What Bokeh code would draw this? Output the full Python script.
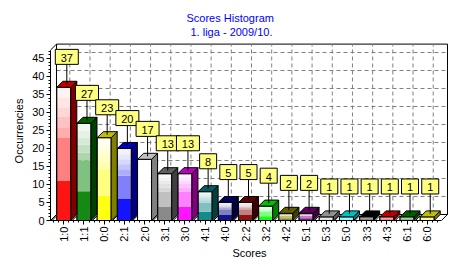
import math
from bokeh.plotting import figure
from bokeh.models import Range1d, FixedTicker, Title, ColumnDataSource
from bokeh.core.properties import value
from bokeh.embed import file_html
from bokeh.resources import INLINE

# ---------------- data ----------------
title_text = "Scores Histogram"
subtitle_text = "1. liga - 2009/10."
x_label = "Scores"
y_label = "Occurrencies"
categories = ["1:0", "1:1", "0:0", "2:1", "2:0", "3:1", "3:0", "4:1", "4:0", "2:2",
              "3:2", "4:2", "5:1", "5:3", "5:0", "3:3", "4:3", "6:1", "6:0"]
counts = [37, 27, 23, 20, 17, 13, 13, 8, 5, 5, 4, 2, 2, 1, 1, 1, 1, 1, 1]
y_ticks = [0, 5, 10, 15, 20, 25, 30, 35, 40, 45]

# ---------------- style ----------------
PALETTE = ["#ff0000", "#008000", "#ffff00", "#0000ff", "#ffffff", "#808080",
           "#ff00ff", "#008080", "#000080", "#800000", "#00ff00", "#808000",
           "#800080", "#c0c0c0", "#00ffff", "#000000"]
FONT = "Liberation Sans"

PX_X = 20.19          # pixels per category
PX_Y = 3.6            # pixels per unit
X0, X1 = -0.659, 19.054
Y0, Y1 = 0.0, 49.72
DX = 6.0 / PX_X       # 3D depth in data units
DY = 6.0 / PX_Y
HW = 7.0 / PX_X       # half bar width
FRONT_L = X0
FRONT_R = 18.707
FRONT_T = 47.33
LABEL_OFF = 8.45
BOX_H = 15


def hex2rgb(h):
    h = h.lstrip("#")
    return tuple(int(h[i:i + 2], 16) for i in (0, 2, 4))


def rgb2hex(c):
    return "#%02x%02x%02x" % tuple(max(0, min(255, int(round(v)))) for v in c)


def mix(h, w):
    r, g, b = hex2rgb(h)
    return rgb2hex((r + (255 - r) * w, g + (255 - g) * w, b + (255 - b) * w))


def shade(h, f):
    r, g, b = hex2rgb(h)
    return rgb2hex((r * f, g * f, b * f))


p = figure(width=461, height=267, x_range=Range1d(X0, X1), y_range=Range1d(Y0, Y1),
           output_backend="svg", toolbar_location=None, title=None,
           min_border_left=50, min_border_right=13, min_border_top=41, min_border_bottom=47)
p.outline_line_color = None
p.xgrid.visible = False
p.ygrid.visible = False
p.background_fill_color = "white"
p.border_fill_color = "white"

# ---- 3D box: back wall, left wall, floor ----
BL, BR, BT = FRONT_L + DX, FRONT_R + DX, FRONT_T + DY
p.quad(left=[BL], right=[BR], bottom=[DY], top=[BT], fill_color="white",
       line_color="black", line_width=1)
# dashed grid on back wall
gx = [i + DX for i in range(len(categories))]
p.segment(x0=gx, y0=[DY] * len(gx), x1=gx, y1=[BT] * len(gx),
          line_color="#808080", line_dash="4 3", line_width=1)
gy = [t + DY for t in y_ticks if t > 0]
p.segment(x0=[BL] * len(gy), y0=gy, x1=[BR] * len(gy), y1=gy,
          line_color="#808080", line_dash="4 3", line_width=1)
# left wall
p.patch(x=[FRONT_L, BL, BL, FRONT_L], y=[0, DY, BT, FRONT_T],
        fill_color="white", line_color="black", line_width=1)
# floor
p.patch(x=[FRONT_L, FRONT_R, BR, BL], y=[0, 0, DY, DY],
        fill_color="white", line_color="black", line_width=1)

# ---- bars ----
edges = [0.0, 0.3, 0.62, 0.7, 0.78, 0.85, 0.92, 1.0]
whites = [0.08, 0.5, 0.68, 0.76, 0.84, 0.9, 0.95]
bl, br, bb, bt, bc = [], [], [], [], []
side_xs, side_ys, side_c = [], [], []
top_xs, top_ys, top_c = [], [], []
tri_xs, tri_ys = [], []
for i, v in enumerate(counts):
    col = PALETTE[i % len(PALETTE)]
    for k in range(len(whites)):
        bl.append(i - HW)
        br.append(i + HW)
        bb.append(v * edges[k])
        bt.append(v * edges[k + 1])
        bc.append(mix(col, whites[k]))
    side_xs.append([i + HW, i + HW + DX, i + HW + DX, i + HW])
    side_ys.append([0, DY, v + DY, v])
    side_c.append(shade(col, 0.5))
    top_xs.append([i - HW, i + HW, i + HW + DX, i - HW + DX])
    top_ys.append([v, v, v + DY, v + DY])
    top_c.append(shade(col, 0.75))
    tri_xs.append([i - HW - DX * 0.8, i - HW, i - HW])
    tri_ys.append([0, 0, DY * 0.8])

p.patches(xs=tri_xs, ys=tri_ys, fill_color="white", line_color="black", line_width=1)
p.quad(left=bl, right=br, bottom=bb, top=bt, fill_color=bc, line_color=None)
p.quad(left=[i - HW for i in range(len(counts))], right=[i + HW for i in range(len(counts))],
       bottom=[0] * len(counts), top=counts, fill_color=None, line_color="black", line_width=1)
p.patches(xs=side_xs, ys=side_ys, fill_color=side_c, line_color="black", line_width=1)
p.patches(xs=top_xs, ys=top_ys, fill_color=top_c, line_color="black", line_width=1)

# ---- value labels ----
lx = [i + DX / 2 for i in range(len(counts))]
ly = [v + LABEL_OFF for v in counts]
src = ColumnDataSource(dict(
    x=lx, y=ly, txt=[str(v) for v in counts],
    w=[6 * len(str(v)) + 11 for v in counts],
    y0=[v + DY / 2 for v in counts],
    y1=[v + LABEL_OFF - (BOX_H / 2) / PX_Y for v in counts]))
p.segment(x0="x", y0="y0", x1="x", y1="y1", source=src, line_color="black", line_width=1)
p.rect(x="x", y="y", width="w", height=BOX_H, width_units="screen", height_units="screen",
       source=src, fill_color="#ffff80", line_color="black", line_width=1)
p.text(x="x", y="y", text="txt", source=src, text_align="center", text_baseline="middle",
       text_font=value(FONT), text_font_size="11px", text_color="black", y_offset=1)

# ---- axes ----
ya = p.yaxis[0]
ya.ticker = FixedTicker(ticks=y_ticks, minor_ticks=list(range(0, int(FRONT_T) + 1)))
ya.bounds = (0, FRONT_T)
ya.axis_label = y_label
ya.major_tick_in = 0
ya.major_tick_out = 4
ya.minor_tick_in = 0
ya.minor_tick_out = 2
ya.major_label_standoff = 2
ya.axis_label_standoff = 4

xa = p.xaxis[0]
xa.ticker = FixedTicker(ticks=list(range(len(categories))),
                        minor_ticks=[k * 0.25 for k in range(-2, 4 * len(categories) - 1)])
xa.major_label_overrides = {i: c for i, c in enumerate(categories)}
xa.bounds = (FRONT_L, FRONT_R)
xa.axis_label = x_label
xa.major_label_orientation = math.pi / 2
xa.major_tick_in = 0
xa.major_tick_out = 4
xa.minor_tick_in = 0
xa.minor_tick_out = 2
xa.major_label_standoff = 2
xa.axis_label_standoff = 2

for ax in (xa, ya):
    ax.axis_line_color = "black"
    ax.major_tick_line_color = "black"
    ax.minor_tick_line_color = "black"
    ax.major_label_text_font = FONT
    ax.major_label_text_font_size = "11px"
    ax.major_label_text_color = "black"
    ax.axis_label_text_font = FONT
    ax.axis_label_text_font_size = "11px"
    ax.axis_label_text_font_style = "normal"
    ax.axis_label_text_color = "black"

# ---- titles ----
sub = Title(text=subtitle_text, align="left", offset=140, standoff=7,
            text_font=FONT, text_font_size="11px", text_font_style="normal",
            text_color="#0000ff")
main = Title(text=title_text, align="left", offset=136, standoff=-6,
             text_font=FONT, text_font_size="11px", text_font_style="normal",
             text_color="#0000ff")
p.add_layout(sub, "above")
p.add_layout(main, "above")

open("out.html", "w").write(file_html(p, INLINE))
